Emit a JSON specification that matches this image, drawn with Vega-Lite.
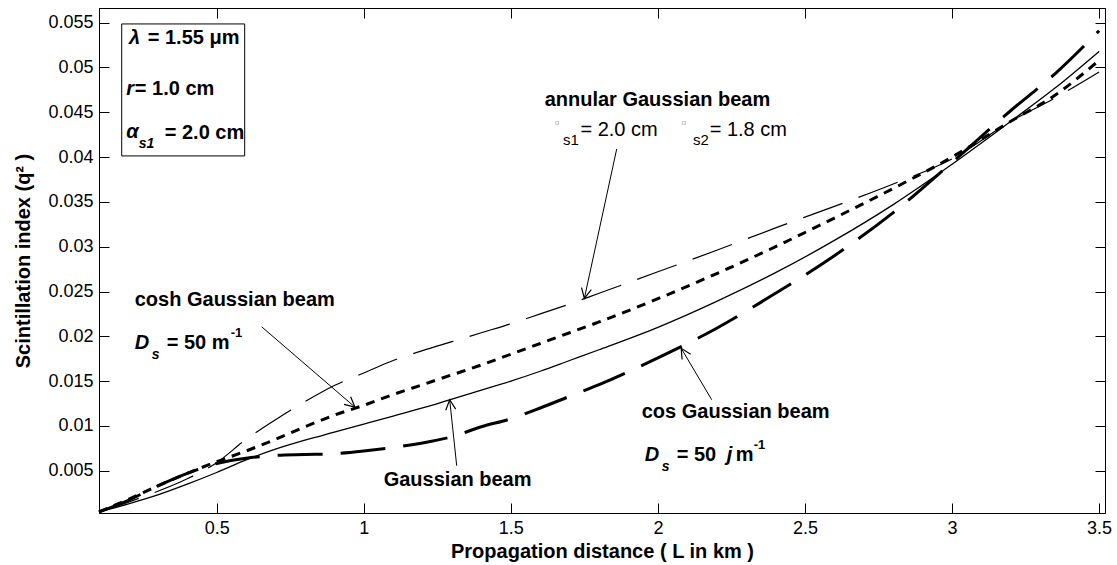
{
  "$schema": "https://vega.github.io/schema/vega-lite/v6.json",
  "width": 1006,
  "height": 505,
  "autosize": {"type": "none"},
  "padding": {"left": 99, "top": 8, "right": 12, "bottom": 52},
  "background": "white",
  "config": {
    "view": {"stroke": "black", "strokeWidth": 1},
    "font": "Liberation Sans",
    "axis": {
      "grid": false,
      "domainColor": "black",
      "tickColor": "black",
      "labelColor": "black",
      "titleColor": "black",
      "labelFont": "Liberation Sans",
      "titleFont": "Liberation Sans",
      "labelFontSize": 18,
      "titleFontSize": 20,
      "titleFontWeight": "bold",
      "tickSize": -10,
      "labelPadding": 16
    }
  },
  "datasets": {
    "gauss": [
      {"L": 0.1, "v": 0.0004}, {"L": 0.2, "v": 0.0013}, {"L": 0.3, "v": 0.0023}, {"L": 0.4, "v": 0.0035},
      {"L": 0.5, "v": 0.0048}, {"L": 0.6, "v": 0.0062}, {"L": 0.7, "v": 0.0074}, {"L": 0.8, "v": 0.0084},
      {"L": 0.9, "v": 0.0093}, {"L": 1.0, "v": 0.0102}, {"L": 1.1, "v": 0.0111}, {"L": 1.2, "v": 0.012},
      {"L": 1.3, "v": 0.013}, {"L": 1.4, "v": 0.014}, {"L": 1.5, "v": 0.015}, {"L": 1.6, "v": 0.0161},
      {"L": 1.7, "v": 0.0173}, {"L": 1.8, "v": 0.0185}, {"L": 2.0, "v": 0.021}, {"L": 2.2, "v": 0.0239},
      {"L": 2.4, "v": 0.0271}, {"L": 2.6, "v": 0.0307}, {"L": 2.8, "v": 0.0347}, {"L": 3.0, "v": 0.0392},
      {"L": 3.2, "v": 0.044}, {"L": 3.35, "v": 0.0477}, {"L": 3.5, "v": 0.0518}
    ],
    "cosh": [
      {"L": 0.1, "v": 0.0004}, {"L": 0.2, "v": 0.0018}, {"L": 0.3, "v": 0.0033}, {"L": 0.4, "v": 0.0047},
      {"L": 0.5, "v": 0.006}, {"L": 0.6, "v": 0.0072}, {"L": 0.7, "v": 0.0085}, {"L": 0.8, "v": 0.0099},
      {"L": 0.9, "v": 0.0112}, {"L": 1.0, "v": 0.0123}, {"L": 1.1, "v": 0.0135}, {"L": 1.2, "v": 0.0146},
      {"L": 1.3, "v": 0.0157}, {"L": 1.4, "v": 0.0168}, {"L": 1.5, "v": 0.018}, {"L": 1.6, "v": 0.0192},
      {"L": 1.7, "v": 0.0204}, {"L": 1.8, "v": 0.0216}, {"L": 2.0, "v": 0.0242}, {"L": 2.2, "v": 0.027},
      {"L": 2.4, "v": 0.03}, {"L": 2.6, "v": 0.0332}, {"L": 2.8, "v": 0.0365}, {"L": 3.0, "v": 0.04},
      {"L": 3.2, "v": 0.044}, {"L": 3.35, "v": 0.0469}, {"L": 3.5, "v": 0.0508}
    ],
    "annular": [
      {"L": 0.1, "v": 0.0004}, {"L": 0.2, "v": 0.0015}, {"L": 0.3, "v": 0.0027}, {"L": 0.4, "v": 0.0041},
      {"L": 0.5, "v": 0.0059}, {"L": 0.6, "v": 0.0085}, {"L": 0.7, "v": 0.0107}, {"L": 0.8, "v": 0.0127},
      {"L": 0.9, "v": 0.0145}, {"L": 1.0, "v": 0.0159}, {"L": 1.1, "v": 0.0173}, {"L": 1.2, "v": 0.0184},
      {"L": 1.3, "v": 0.0194}, {"L": 1.4, "v": 0.0204}, {"L": 1.5, "v": 0.0214}, {"L": 1.6, "v": 0.0225},
      {"L": 1.7, "v": 0.0236}, {"L": 1.8, "v": 0.0248}, {"L": 2.0, "v": 0.0272}, {"L": 2.2, "v": 0.0296},
      {"L": 2.4, "v": 0.0321}, {"L": 2.6, "v": 0.0345}, {"L": 2.8, "v": 0.037}, {"L": 3.0, "v": 0.0398},
      {"L": 3.2, "v": 0.044}, {"L": 3.35, "v": 0.0466}, {"L": 3.5, "v": 0.0495}
    ],
    "cos": [
      {"L": 0.1, "v": 0.0004}, {"L": 0.2, "v": 0.0017}, {"L": 0.3, "v": 0.0033}, {"L": 0.4, "v": 0.0047},
      {"L": 0.5, "v": 0.0058}, {"L": 0.6, "v": 0.0064}, {"L": 0.7, "v": 0.0067}, {"L": 0.8, "v": 0.0068},
      {"L": 0.9, "v": 0.0069}, {"L": 1.0, "v": 0.0072}, {"L": 1.1, "v": 0.0076}, {"L": 1.2, "v": 0.0081},
      {"L": 1.3, "v": 0.0088}, {"L": 1.4, "v": 0.0099}, {"L": 1.5, "v": 0.0108}, {"L": 1.6, "v": 0.012},
      {"L": 1.7, "v": 0.0133}, {"L": 1.8, "v": 0.0146}, {"L": 2.0, "v": 0.0176}, {"L": 2.2, "v": 0.0209},
      {"L": 2.4, "v": 0.0248}, {"L": 2.6, "v": 0.029}, {"L": 2.8, "v": 0.0338}, {"L": 3.0, "v": 0.0394},
      {"L": 3.2, "v": 0.0452}, {"L": 3.35, "v": 0.0493}, {"L": 3.5, "v": 0.0541}
    ],
    "box": [{"L": 0.1772, "v": 0.05486, "L2": 0.5953, "v2": 0.04013}],
    "notes": [
      {"k": "label", "t": "annular Gaussian beam", "L": 1.615, "v": 0.04638},
      {"k": "label", "t": "cosh Gaussian beam", "L": 0.2214, "v": 0.02407},
      {"k": "label", "t": "cos Gaussian beam", "L": 1.945, "v": 0.01158},
      {"k": "label", "t": "Gaussian beam", "L": 1.0678, "v": 0.004},
      {"k": "label", "t": "= 1.55 μm", "L": 0.2656, "v": 0.05326},
      {"k": "label", "t": "= 1.0 cm", "L": 0.2217, "v": 0.04757},
      {"k": "label", "t": "= 2.0 cm", "L": 0.3234, "v": 0.0427},
      {"k": "label", "t": "= 50 m", "L": 0.3302, "v": 0.01928},
      {"k": "label", "t": "= 50", "L": 2.0638, "v": 0.00678},
      {"k": "label", "t": "m", "L": 2.2648, "v": 0.00678},
      {"k": "ital", "t": "λ", "L": 0.202, "v": 0.05326},
      {"k": "ital", "t": "r", "L": 0.1925, "v": 0.04757},
      {"k": "ital", "t": "α", "L": 0.1925, "v": 0.04285},
      {"k": "ital", "t": "D", "L": 0.2214, "v": 0.01928},
      {"k": "ital", "t": "D", "L": 1.955, "v": 0.00678},
      {"k": "ital", "t": "j", "L": 2.2342, "v": 0.00678},
      {"k": "sub", "t": "s1", "L": 0.235, "v": 0.04147},
      {"k": "sub", "t": "s", "L": 0.2792, "v": 0.01794},
      {"k": "sub", "t": "s", "L": 2.0128, "v": 0.00544},
      {"k": "sup", "t": "-1", "L": 0.5477, "v": 0.02039},
      {"k": "sup", "t": "-1", "L": 2.3256, "v": 0.0079},
      {"k": "plain", "t": "= 2.0 cm", "L": 1.7366, "v": 0.04303},
      {"k": "plain", "t": "= 1.8 cm", "L": 2.176, "v": 0.04303},
      {"k": "plainsub", "t": "s1", "L": 1.677, "v": 0.04192},
      {"k": "plainsub", "t": "s2", "L": 2.119, "v": 0.04192},
      {"k": "tiny", "t": "α", "L": 1.649, "v": 0.04378},
      {"k": "tiny", "t": "α", "L": 2.08, "v": 0.04378}
    ],
    "arrows": [
      {"L": 1.2922, "v": 0.01292, "L2": 1.316, "v2": 0.00556, "angle": -6},
      {"L": 1.75, "v": 0.02423, "L2": 1.86, "v2": 0.04091, "angle": -168},
      {"L": 0.97, "v": 0.0121, "L2": 0.6531, "v2": 0.02106, "angle": 131},
      {"L": 2.0793, "v": 0.01866, "L2": 2.183, "v2": 0.01292, "angle": -31}
    ]
  },
  "layer": [
    {
      "encoding": {
        "x": {
          "field": "L", "type": "quantitative",
          "scale": {"domain": [0.1, 3.52], "nice": false, "zero": false},
          "axis": {
            "values": [0.5, 1, 1.5, 2, 2.5, 3, 3.5],
            "format": "~g",
            "title": "Propagation distance ( L in km )",
            "titlePadding": 4
          }
        },
        "y": {
          "field": "v", "type": "quantitative",
          "scale": {"domain": [0.00028, 0.05664], "nice": false, "zero": false},
          "axis": {
            "values": [0.005, 0.01, 0.015, 0.02, 0.025, 0.03, 0.035, 0.04, 0.045, 0.05, 0.055],
            "format": "~g",
            "title": "Scintillation index (q² )",
            "titlePadding": 14
          }
        }
      },
      "layer": [
        {"data": {"name": "gauss"}, "mark": {"type": "line", "color": "black", "strokeWidth": 1.3, "interpolate": "monotone"}},
        {"data": {"name": "annular"}, "mark": {"type": "line", "color": "black", "strokeWidth": 1.2, "strokeDash": [42, 17], "interpolate": "monotone"}},
        {"data": {"name": "cosh"}, "mark": {"type": "line", "color": "black", "strokeWidth": 3, "strokeDash": [9, 7], "interpolate": "monotone"}},
        {"data": {"name": "cos"}, "mark": {"type": "line", "color": "black", "strokeWidth": 3, "strokeDash": [45, 18], "interpolate": "monotone"}},
        {"data": {"name": "box"}, "mark": {"type": "rect", "fill": "white", "stroke": "black", "strokeWidth": 1},
         "encoding": {"x2": {"field": "L2"}, "y2": {"field": "v2"}}},
        {"data": {"name": "notes"}, "transform": [{"filter": "datum.k === 'label'"}],
         "mark": {"type": "text", "align": "left", "baseline": "middle", "font": "Liberation Sans", "fontSize": 20, "fontWeight": "bold", "color": "black"},
         "encoding": {"text": {"field": "t"}}},
        {"data": {"name": "notes"}, "transform": [{"filter": "datum.k === 'ital'"}],
         "mark": {"type": "text", "align": "left", "baseline": "middle", "font": "Liberation Sans", "fontSize": 20, "fontWeight": "bold", "fontStyle": "italic", "color": "black"},
         "encoding": {"text": {"field": "t"}}},
        {"data": {"name": "notes"}, "transform": [{"filter": "datum.k === 'sub'"}],
         "mark": {"type": "text", "align": "left", "baseline": "middle", "font": "Liberation Sans", "fontSize": 14, "fontWeight": "bold", "fontStyle": "italic", "color": "black"},
         "encoding": {"text": {"field": "t"}}},
        {"data": {"name": "notes"}, "transform": [{"filter": "datum.k === 'sup'"}],
         "mark": {"type": "text", "align": "left", "baseline": "middle", "font": "Liberation Sans", "fontSize": 13, "fontWeight": "bold", "color": "black"},
         "encoding": {"text": {"field": "t"}}},
        {"data": {"name": "notes"}, "transform": [{"filter": "datum.k === 'plain'"}],
         "mark": {"type": "text", "align": "left", "baseline": "middle", "font": "Liberation Sans", "fontSize": 20, "color": "black"},
         "encoding": {"text": {"field": "t"}}},
        {"data": {"name": "notes"}, "transform": [{"filter": "datum.k === 'plainsub'"}],
         "mark": {"type": "text", "align": "left", "baseline": "middle", "font": "Liberation Sans", "fontSize": 15, "color": "black"},
         "encoding": {"text": {"field": "t"}}},
        {"data": {"name": "notes"}, "transform": [{"filter": "datum.k === 'tiny'"}],
         "mark": {"type": "text", "align": "left", "baseline": "middle", "font": "Liberation Sans", "fontSize": 8, "color": "#b0b0b0"},
         "encoding": {"text": {"field": "t"}}},
        {"data": {"name": "arrows"}, "mark": {"type": "rule", "color": "black", "strokeWidth": 1},
         "encoding": {"x2": {"field": "L2"}, "y2": {"field": "v2"}}},
        {"data": {"name": "arrows"},
         "mark": {"type": "point", "shape": "M-0.5,1L0,0L0.5,1", "filled": false, "color": "black", "strokeWidth": 1.2, "size": 400, "opacity": 1},
         "encoding": {"angle": {"field": "angle", "type": "quantitative", "scale": null}}}
      ]
    },
    {
      "data": {"name": "gauss"},
      "mark": {"type": "point", "opacity": 0},
      "encoding": {
        "x": {
          "field": "L", "type": "quantitative",
          "scale": {"domain": [0.1, 3.52], "nice": false, "zero": false},
          "axis": {"orient": "top", "labels": false, "title": null, "values": [0.5, 1, 1.5, 2, 2.5, 3, 3.5]}
        },
        "y": {
          "field": "v", "type": "quantitative",
          "scale": {"domain": [0.00028, 0.05664], "nice": false, "zero": false},
          "axis": {"orient": "right", "labels": false, "title": null, "values": [0.005, 0.01, 0.015, 0.02, 0.025, 0.03, 0.035, 0.04, 0.045, 0.05, 0.055]}
        }
      }
    }
  ],
  "resolve": {"axis": {"x": "independent", "y": "independent"}}
}
